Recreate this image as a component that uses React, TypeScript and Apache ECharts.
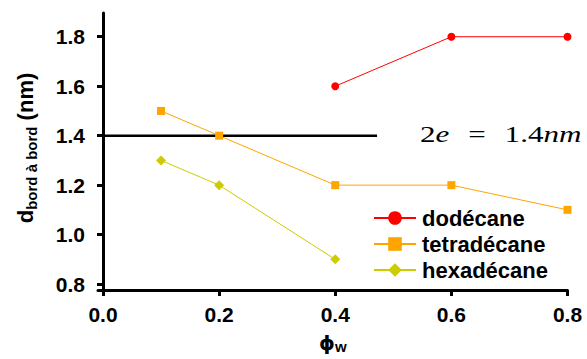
import React, { useEffect, useRef } from "react";
import * as echarts from "echarts";

const xTicks = [0, 0.2, 0.4, 0.6, 0.8];
const yTicks = [0.8, 1.0, 1.2, 1.4, 1.6, 1.8];

const dodecaneX = [0.4, 0.6, 0.8];
const dodecaneY = [1.6, 1.8, 1.8];
const tetradecaneX = [0.1, 0.2, 0.4, 0.6, 0.8];
const tetradecaneY = [1.5, 1.4, 1.2, 1.2, 1.1];
const hexadecaneX = [0.1, 0.2, 0.4];
const hexadecaneY = [1.3, 1.2, 0.9];

const refLineX = [0.003, 0.472];
const refLineValue = 1.4;

const seriesNames = ["dodécane", "tetradécane", "hexadécane"];
const seriesColors = ["#ff0000", "#ffa500", "#cccc00"];

const pairs = (xs: number[], ys: number[]) => xs.map((x, i) => [x, ys[i]]);

const SANS = "'Liberation Sans', Arial, sans-serif";
const SERIF = "'Liberation Serif', 'Times New Roman', serif";

export default function App() {
  const ref = useRef<HTMLDivElement>(null);
  useEffect(() => {
    if (!ref.current) return;
    const chart = echarts.init(ref.current, undefined, { renderer: "svg" });
    const axisLine = { show: true, lineStyle: { color: "#000", width: 3 } };
    const axisTickBase = { show: true, length: 6, lineStyle: { color: "#000", width: 3 } };
    const labelStyle = {
      color: "#000",
      fontFamily: SANS,
      fontWeight: "bold" as const,
      fontSize: 21,
      formatter: (v: number) => v.toFixed(1),
    };
    chart.setOption({
      animation: false,
      backgroundColor: "#fff",
      grid: { left: 98, right: 19.5, top: 13, bottom: 66 },
      xAxis: {
        type: "value",
        min: -0.0086,
        max: 0.8,
        splitLine: { show: false },
        axisLine,
        axisTick: { ...axisTickBase, customValues: xTicks },
        axisLabel: { ...labelStyle, margin: 14, customValues: xTicks },
        name: "{a|ϕ}{s|w}",
        nameLocation: "middle",
        nameGap: 42,
        nameTextStyle: {
          rich: {
            a: { fontSize: 20, fontWeight: "bold", fontFamily: "'DejaVu Sans', sans-serif", color: "#000", lineHeight: 22, verticalAlign: "middle" },
            s: { fontSize: 15, fontWeight: "bold", fontFamily: SANS, color: "#000", lineHeight: 14, verticalAlign: "bottom" },
          },
        },
      },
      yAxis: {
        type: "value",
        min: 0.776,
        max: 1.896,
        splitLine: { show: false },
        axisLine,
        axisTick: { ...axisTickBase, customValues: yTicks },
        axisLabel: { ...labelStyle, margin: 13, customValues: yTicks },
      },
      legend: {
        orient: "vertical",
        left: 368,
        top: 202,
        itemWidth: 42,
        itemHeight: 17,
        itemGap: 4,
        data: seriesNames,
        textStyle: {
          color: "#000",
          fontFamily: SANS,
          fontWeight: "bold",
          fontSize: 22,
          padding: [0, 0, 0, 1],
        },
      },
      graphic: [
        {
          type: "text",
          x: 25,
          y: 148,
          rotation: Math.PI / 2,
          style: {
            text: "{a|d}{s|bord à bord}{a| (nm)}",
            align: "center",
            verticalAlign: "middle",
            fill: "#000",
            rich: {
              a: { fontSize: 22, fontWeight: "bold", fontFamily: SANS, fill: "#000", lineHeight: 28, verticalAlign: "middle" },
              s: { fontSize: 15, fontWeight: "bold", fontFamily: SANS, fill: "#000", lineHeight: 15, verticalAlign: "bottom" },
            },
          },
        },
        {
          type: "text",
          x: 420,
          y: 123,
          scaleX: 1.35,
          style: {
            text: "{n|2}{i|e}{eq|=}{n|1.4}{i|nm}",
            fill: "#000",
            rich: {
              n: { fontSize: 23, fontFamily: SERIF, fill: "#000" },
              i: { fontSize: 23, fontFamily: SERIF, fontStyle: "italic", fill: "#000" },
              eq: { fontSize: 23, fontFamily: SERIF, fill: "#000", padding: [0, 14, 0, 14] },
            },
          },
        },
      ],
      series: [
        {
          name: "ref",
          type: "line",
          data: refLineX.map((x) => [x, refLineValue]),
          symbol: "none",
          lineStyle: { color: "#000", width: 2.5 },
          itemStyle: { color: "#000" },
          z: 1,
          silent: true,
        },
        {
          name: seriesNames[0],
          type: "line",
          data: pairs(dodecaneX, dodecaneY),
          symbol: "circle",
          symbolSize: 8,
          itemStyle: { color: seriesColors[0] },
          lineStyle: { color: seriesColors[0], width: 1 },
          z: 3,
        },
        {
          name: seriesNames[1],
          type: "line",
          data: pairs(tetradecaneX, tetradecaneY),
          symbol: "rect",
          symbolSize: 8,
          itemStyle: { color: seriesColors[1] },
          lineStyle: { color: seriesColors[1], width: 1 },
          z: 3,
        },
        {
          name: seriesNames[2],
          type: "line",
          data: pairs(hexadecaneX, hexadecaneY),
          symbol: "diamond",
          symbolSize: 10,
          itemStyle: { color: seriesColors[2] },
          lineStyle: { color: seriesColors[2], width: 1 },
          z: 3,
        },
      ],
    });
    return () => chart.dispose();
  }, []);
  return (
    <div
      ref={ref}
      style={{ position: "absolute", left: 0, top: 0, width: 587, height: 359 }}
    />
  );
}
